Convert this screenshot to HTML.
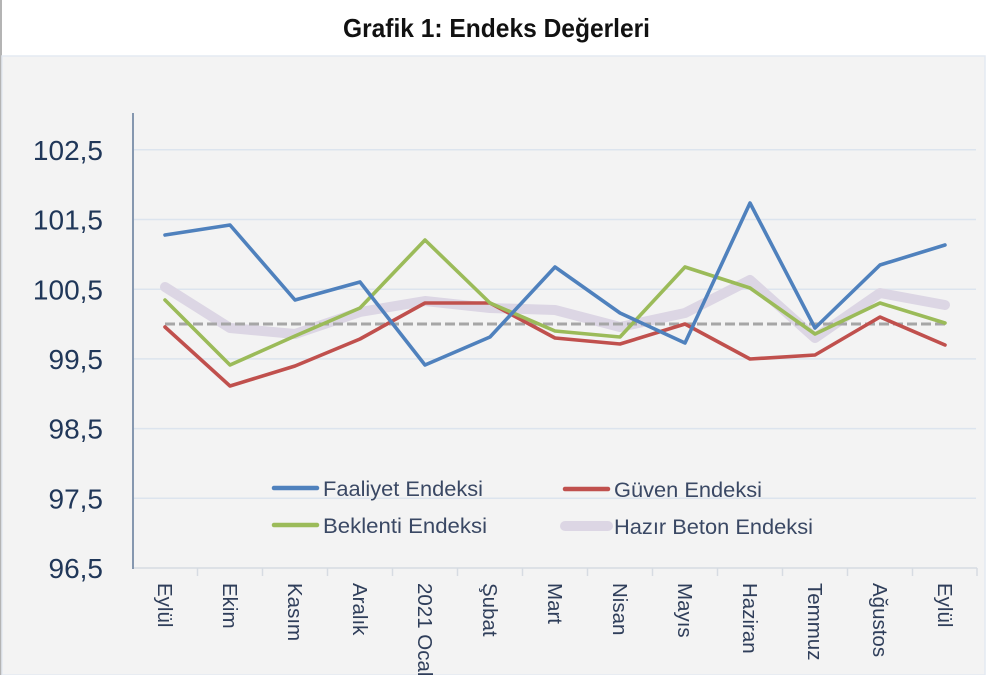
<!DOCTYPE html>
<html>
<head>
<meta charset="utf-8">
<style>
  html, body { margin:0; padding:0; background:#ffffff; }
  body { width:1000px; height:675px; overflow:hidden; }
  svg { display:block; }
  text { font-family: "Liberation Sans", "DejaVu Sans", sans-serif; }
</style>
</head>
<body>
<svg width="1000" height="675" viewBox="0 0 1000 675" xmlns="http://www.w3.org/2000/svg">
  <!-- page background -->
  <rect x="0" y="0" width="1000" height="675" fill="#ffffff"/>
  <!-- left border line -->
  <rect x="0" y="0" width="2" height="675" fill="#b4b4b4"/>
  <!-- chart panel -->
  <rect x="2" y="56" width="983" height="619" fill="#f3f3f3" stroke="#e4eaf2" stroke-width="1.5"/>

  <!-- title -->
  <text x="343" y="37" font-size="26" font-weight="bold" fill="#111111" textLength="307" lengthAdjust="spacingAndGlyphs">Grafik 1: Endeks Değerleri</text>

  <!-- gridlines -->
  <g stroke="#dce4ee" stroke-width="1.5">
    <line x1="133" y1="149.8" x2="976" y2="149.8"/>
    <line x1="133" y1="219.5" x2="976" y2="219.5"/>
    <line x1="133" y1="289.2" x2="976" y2="289.2"/>
    <line x1="133" y1="358.9" x2="976" y2="358.9"/>
    <line x1="133" y1="428.6" x2="976" y2="428.6"/>
    <line x1="133" y1="498.3" x2="976" y2="498.3"/>
  </g>

  <!-- x axis -->
  <line x1="133" y1="568" x2="977" y2="568" stroke="#d6dbe2" stroke-width="1.5"/>
  <g stroke="#d6dbe2" stroke-width="1.5">
    <line x1="197.5" y1="568" x2="197.5" y2="576"/>
    <line x1="262.5" y1="568" x2="262.5" y2="576"/>
    <line x1="327.5" y1="568" x2="327.5" y2="576"/>
    <line x1="392.5" y1="568" x2="392.5" y2="576"/>
    <line x1="457.5" y1="568" x2="457.5" y2="576"/>
    <line x1="522.5" y1="568" x2="522.5" y2="576"/>
    <line x1="587.5" y1="568" x2="587.5" y2="576"/>
    <line x1="652.5" y1="568" x2="652.5" y2="576"/>
    <line x1="717.5" y1="568" x2="717.5" y2="576"/>
    <line x1="782.5" y1="568" x2="782.5" y2="576"/>
    <line x1="847.5" y1="568" x2="847.5" y2="576"/>
    <line x1="912.5" y1="568" x2="912.5" y2="576"/>
    <line x1="977" y1="568" x2="977" y2="576"/>
  </g>
  <!-- y axis -->
  <line x1="133" y1="113" x2="133" y2="569" stroke="#8597af" stroke-width="2"/>

  <!-- y labels -->
  <g font-size="28" fill="#203759" text-anchor="end">
    <text x="103" y="160">102,5</text>
    <text x="103" y="229.5">101,5</text>
    <text x="103" y="299.5">100,5</text>
    <text x="103" y="369">99,5</text>
    <text x="103" y="438.5">98,5</text>
    <text x="103" y="508.5">97,5</text>
    <text x="103" y="578">96,5</text>
  </g>

  <!-- x labels (rotated) -->
  <g font-size="20.5" fill="#2f3e5a">
    <text transform="translate(158,583) rotate(90)">Eylül</text>
    <text transform="translate(223,583) rotate(90)">Ekim</text>
    <text transform="translate(288,583) rotate(90)">Kasım</text>
    <text transform="translate(353,583) rotate(90)">Aralık</text>
    <text transform="translate(418,583) rotate(90)">2021 Ocak</text>
    <text transform="translate(483,583) rotate(90)">Şubat</text>
    <text transform="translate(548,583) rotate(90)">Mart</text>
    <text transform="translate(613,583) rotate(90)">Nisan</text>
    <text transform="translate(678,583) rotate(90)">Mayıs</text>
    <text transform="translate(743,583) rotate(90)">Haziran</text>
    <text transform="translate(808,583) rotate(90)">Temmuz</text>
    <text transform="translate(873,583) rotate(90)">Ağustos</text>
    <text transform="translate(938,583) rotate(90)">Eylül</text>
  </g>

  <!-- Hazır Beton (thick lavender) -->
  <polyline fill="none" stroke="#dcd6e4" stroke-width="10" stroke-linejoin="round" stroke-linecap="round"
    points="165,287 230,328 295,334 360,312 425,301 490,308 555,310 620,327 685,313 750,280 815,338 880,293 945,305"/>

  <!-- 100 reference dashed line -->
  <line x1="165" y1="324" x2="947" y2="324" stroke="#a6a6a6" stroke-width="3" stroke-dasharray="10,4"/>

  <!-- Güven (red) -->
  <polyline fill="none" stroke="#c0504d" stroke-width="3.6" stroke-linejoin="round" stroke-linecap="round"
    points="165,327 230,386 295,366 360,339 425,303 490,303 555,338 620,344 685,324 750,359 815,355 880,317 945,345"/>

  <!-- Beklenti (green) -->
  <polyline fill="none" stroke="#9bbb59" stroke-width="3.6" stroke-linejoin="round" stroke-linecap="round"
    points="165,300 230,365 295,336 360,308 425,240 490,303 555,331 620,337 685,267 750,288 815,334 880,303 945,323"/>

  <!-- Faaliyet (blue) -->
  <polyline fill="none" stroke="#4f81bd" stroke-width="3.6" stroke-linejoin="round" stroke-linecap="round"
    points="165,235 230,225 295,300 360,282 425,365 490,337 555,267 620,313 685,343 750,203 815,328 880,265 945,245"/>

  <!-- legend -->
  <line x1="274" y1="488" x2="317" y2="488" stroke="#4f81bd" stroke-width="4.5" stroke-linecap="round"/>
  <text x="323" y="496" font-size="21.5" fill="#3a4864" textLength="160" lengthAdjust="spacingAndGlyphs">Faaliyet Endeksi</text>

  <line x1="274" y1="525" x2="317" y2="525" stroke="#9bbb59" stroke-width="4.5" stroke-linecap="round"/>
  <text x="323" y="533" font-size="21.5" fill="#3a4864" textLength="164" lengthAdjust="spacingAndGlyphs">Beklenti Endeksi</text>

  <line x1="565" y1="489" x2="608" y2="489" stroke="#c0504d" stroke-width="4.5" stroke-linecap="round"/>
  <text x="614" y="497" font-size="21.5" fill="#3a4864" textLength="148" lengthAdjust="spacingAndGlyphs">Güven Endeksi</text>

  <line x1="565" y1="526" x2="608" y2="526" stroke="#dcd6e4" stroke-width="10" stroke-linecap="round"/>
  <text x="614" y="534" font-size="21.5" fill="#3a4864" textLength="199" lengthAdjust="spacingAndGlyphs">Hazır Beton Endeksi</text>
</svg>
</body>
</html>
